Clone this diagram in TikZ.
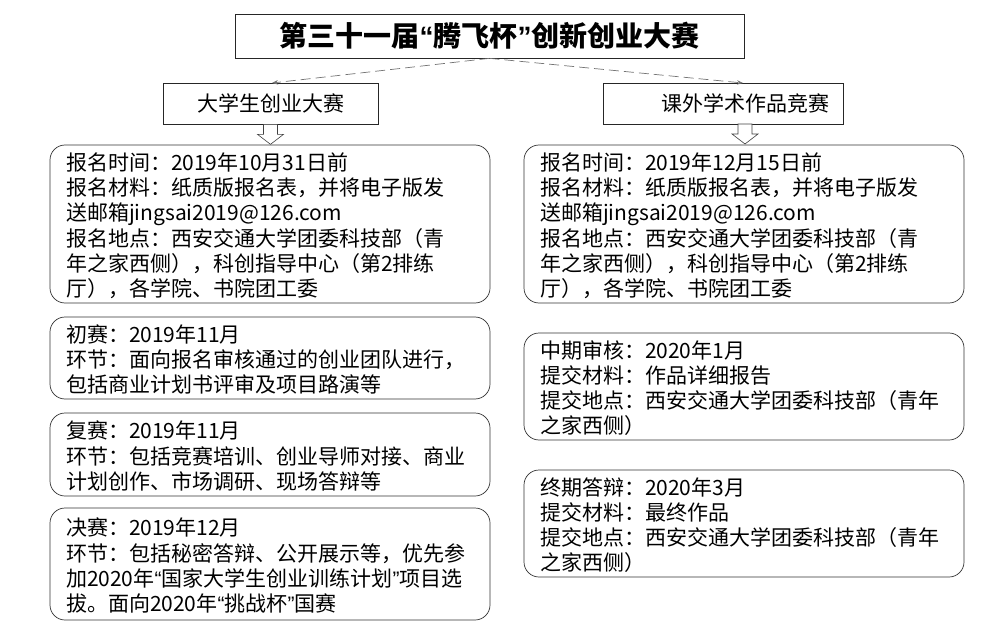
\documentclass[tikz,border=0pt]{standalone}
\usepackage{fontspec}
\setmainfont{Noto Sans CJK SC}
\newfontfamily\qfont{Liberation Sans}
\newcommand\qopen{{\qfont “}}
\newcommand\qclose{{\qfont ”}}
\newcommand\toprl{\rule{0pt}{21pt}}
\usetikzlibrary{arrows.meta,calc}
\begin{document}
\begin{tikzpicture}[x=1pt,y=-1pt,
  titlebox/.style={draw=black!85,line width=0.7pt,minimum width=509pt,minimum height=44pt,inner sep=0pt,font=\fontsize{28}{30}\selectfont\bfseries},
  subbox/.style={draw=black!85,line width=0.7pt,minimum height=41pt,inner sep=0pt,font=\fontsize{21}{25}\selectfont},
  rbox/.style={draw=black!80,line width=0.7pt,rounded corners=15pt,text width=408pt,inner xsep=16pt,inner ysep=0pt,align=left,font=\fontsize{21}{25.3}\selectfont},
  link/.style={draw=black!55,line width=0.7pt,dash pattern=on 10pt off 5pt,-{Stealth[length=6pt,width=4.5pt]}},
  blockarrow/.style={draw=black!75,line width=0.6pt,fill=white}
]
\useasboundingbox (0,0) rectangle (987,636);

\node[titlebox] (t) at (489.5,36) {第三十一届\qopen 腾飞杯\qclose 创新创业大赛};
\node[subbox,minimum width=215pt] (a) at (270.5,103.5) {大学生创业大赛};
\node[subbox,minimum width=240pt] (b) at (723,103.5) {\hspace*{44pt}课外学术作品竞赛};

\coordinate (at) at (272,83);
\coordinate (bt) at (743,83);
\coordinate (bs) at (745,124);

\draw[link] (t.south) -- (at);
\draw[link] (t.south) -- (bt);

\node[rbox,minimum height=158pt] (l1) at (270,224) {\toprl 报名时间：2019年10月31日前\\报名材料：纸质版报名表，并将电子版发\\送邮箱jingsai2019@126.com\\报名地点：西安交通大学团委科技部（青\\年之家西侧），科创指导中心（第2排练\\厅），各学院、书院团工委};
\node[rbox,minimum height=82pt] (l2) at (270,358) {\toprl 初赛：2019年11月\\环节：面向报名审核通过的创业团队进行，\\包括商业计划书评审及项目路演等};
\node[rbox,minimum height=83pt] (l3) at (270,454.5) {\toprl 复赛：2019年11月\\环节：包括竞赛培训、创业导师对接、商业\\计划创作、市场调研、现场答辩等};
\node[rbox,minimum height=112pt] (l4) at (270,564) {\toprl 决赛：2019年12月\\环节：包括秘密答辩、公开展示等，优先参\\加2020年\qopen 国家大学生创业训练计划\qclose 项目选\\拔。面向2020年\qopen 挑战杯\qclose 国赛};

\node[rbox,minimum height=158pt] (r1) at (744,224) {\toprl 报名时间：2019年12月15日前\\报名材料：纸质版报名表，并将电子版发\\送邮箱jingsai2019@126.com\\报名地点：西安交通大学团委科技部（青\\年之家西侧），科创指导中心（第2排练\\厅），各学院、书院团工委};
\node[rbox,minimum height=107pt] (r2) at (744,386.5) {\toprl 中期审核：2020年1月\\提交材料：作品详细报告\\提交地点：西安交通大学团委科技部（青年\\之家西侧）};
\node[rbox,minimum height=107pt] (r3) at (744,523.5) {\toprl 终期答辩：2020年3月\\提交材料：最终作品\\提交地点：西安交通大学团委科技部（青年\\之家西侧）};

\draw[blockarrow] ([xshift=-7pt]a.south) -- ++(0,10) -- ++(-6,0) -- ++(13,10) -- ++(13,-10) -- ++(-6,0) -- ++(0,-10) -- cycle;
\draw[blockarrow] ([xshift=-7pt]bs) -- ++(0,10) -- ++(-6,0) -- ++(13,10) -- ++(13,-10) -- ++(-6,0) -- ++(0,-10) -- cycle;
\end{tikzpicture}
\end{document}
